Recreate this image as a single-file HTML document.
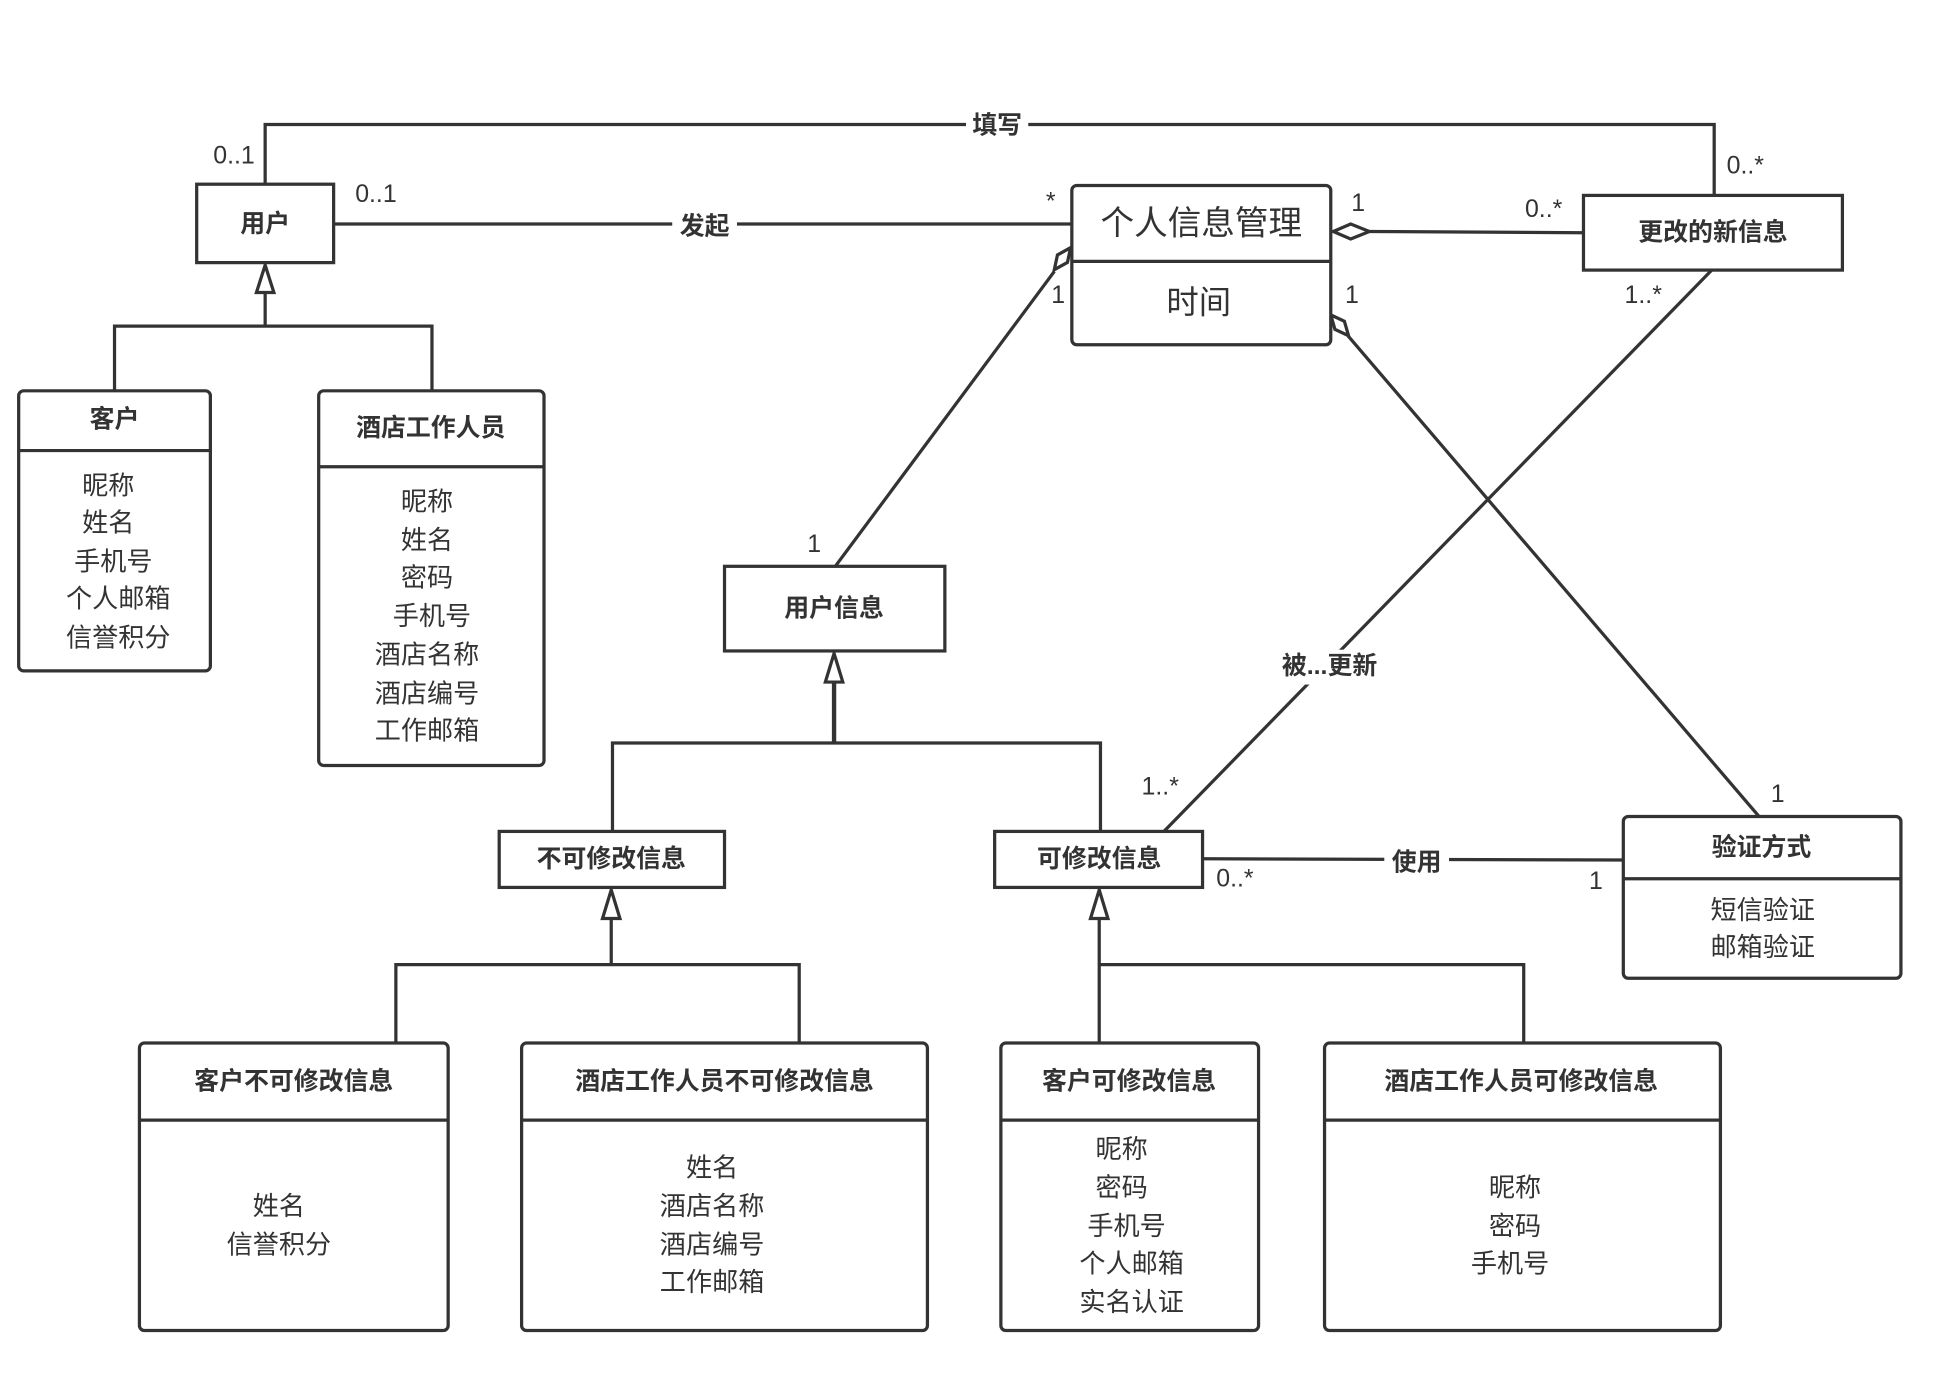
<!DOCTYPE html>
<html><head><meta charset="utf-8"><style>
html,body{margin:0;padding:0;background:#fff;}
svg{display:block;}
text{font-family:"Liberation Sans","Noto Sans CJK SC",sans-serif;fill:#333;text-anchor:middle;dominant-baseline:central;}
.t{font-weight:bold;font-size:20px;}
.a{font-size:21px;}
.m{font-size:20px;}
</style></head><body>
<svg width="1942" height="1394" viewBox="0 0 1560 1120" preserveAspectRatio="none" xmlns="http://www.w3.org/2000/svg">
<g fill="none" stroke="#333" stroke-width="2.6">
<!-- connectors -->
<polyline points="213,148 213,100 1377,100 1377,157"/>
<line x1="268" y1="180" x2="861" y2="180"/>
<polyline points="213,235 213,262"/>
<polyline points="92,314 92,262 347,262 347,314"/>
<line x1="1100" y1="186" x2="1272" y2="187"/>
<line x1="847" y1="218" x2="671" y2="455"/>
<line x1="1083" y1="270" x2="1413" y2="656"/>
<line x1="1375" y1="217" x2="935" y2="668"/>
<line x1="966" y1="690" x2="1304" y2="691"/>
<polyline points="670,548 670,597" stroke-width="3.5"/>
<polyline points="492,668 492,597 884,597 884,668"/>
<polyline points="491,738 491,775"/>
<polyline points="318,838 318,775 642,775 642,838"/>
<polyline points="883,738 883,838"/>
<polyline points="883,775 1224,775 1224,838"/>
</g>
<!-- triangles -->
<g fill="#fff" stroke="#333" stroke-width="2.6">
<polygon points="213,213 206,235 220,235"/>
<polygon points="670,525 663,548 677,548"/>
<polygon points="491,715 484,738 498,738"/>
<polygon points="883,715 876,738 890,738"/>
<!-- diamonds -->
<polygon points="1071,186 1085,180 1100,186 1085,192"/>
<polygon points="0,0 11,-5 22,0 11,5" transform="translate(860,199) rotate(126.5)"/>
<polygon points="0,0 11,-5 22,0 11,5" transform="translate(1069,253) rotate(49.5)"/>
</g>
<!-- label backgrounds -->
<g fill="#fff">
<rect x="776" y="89" width="50" height="24"/>
<rect x="540" y="169" width="52" height="26"/>
<rect x="1020" y="522" width="96" height="28"/>
<rect x="1112" y="680" width="52" height="26"/>
</g>
<!-- boxes -->
<g fill="#fff" stroke="#333" stroke-width="2.6">
<rect x="158" y="148" width="110" height="63"/>
<rect x="15" y="314" width="154" height="225" rx="4"/>
<line x1="15" y1="362" x2="169" y2="362"/>
<rect x="256" y="314" width="181" height="301" rx="4"/>
<line x1="256" y1="375" x2="437" y2="375"/>
<rect x="861" y="149" width="208" height="128" rx="4"/>
<line x1="861" y1="210" x2="1069" y2="210"/>
<rect x="1272" y="157" width="208" height="60"/>
<rect x="582" y="455" width="177" height="68"/>
<rect x="401" y="668" width="181" height="45"/>
<rect x="799" y="668" width="167" height="45"/>
<rect x="1304" y="656" width="223" height="130" rx="4"/>
<line x1="1304" y1="706" x2="1527" y2="706"/>
<rect x="112" y="838" width="248" height="231" rx="4"/>
<line x1="112" y1="900" x2="360" y2="900"/>
<rect x="419" y="838" width="326" height="231" rx="4"/>
<line x1="419" y1="900" x2="745" y2="900"/>
<rect x="804" y="838" width="207" height="231" rx="4"/>
<line x1="804" y1="900" x2="1011" y2="900"/>
<rect x="1064" y="838" width="318" height="231" rx="4"/>
<line x1="1064" y1="900" x2="1382" y2="900"/>
</g>
<!-- titles -->
<text class="t" x="213" y="180">用户</text>
<text class="t" x="92" y="337">客户</text>
<text class="t" x="346" y="344">酒店工作人员</text>
<text x="965" y="180" style="font-size:27px">个人信息管理</text>
<text x="963" y="243" style="font-size:26px">时间</text>
<text class="t" x="1376" y="187">更改的新信息</text>
<text class="t" x="670" y="489">用户信息</text>
<text class="t" x="491" y="690">不可修改信息</text>
<text class="t" x="883" y="690">可修改信息</text>
<text class="t" x="1415" y="681">验证方式</text>
<text class="t" x="236" y="869">客户不可修改信息</text>
<text class="t" x="582" y="869">酒店工作人员不可修改信息</text>
<text class="t" x="907" y="869">客户可修改信息</text>
<text class="t" x="1222" y="869">酒店工作人员可修改信息</text>
<!-- attributes -->
<g class="a">
<text class="a" x="87" y="390">昵称</text>
<text class="a" x="87" y="420">姓名</text>
<text class="a" x="91" y="451">手机号</text>
<text class="a" x="95" y="481">个人邮箱</text>
<text class="a" x="95" y="512">信誉积分</text>
<text class="a" x="343" y="403">昵称</text>
<text class="a" x="343" y="434">姓名</text>
<text class="a" x="343" y="464">密码</text>
<text class="a" x="347" y="495">手机号</text>
<text class="a" x="343" y="526">酒店名称</text>
<text class="a" x="343" y="557">酒店编号</text>
<text class="a" x="343" y="587">工作邮箱</text>
<text class="a" x="1416" y="731">短信验证</text>
<text class="a" x="1416" y="761">邮箱验证</text>
<text class="a" x="224" y="969">姓名</text>
<text class="a" x="224" y="1000">信誉积分</text>
<text class="a" x="572" y="938">姓名</text>
<text class="a" x="572" y="969">酒店名称</text>
<text class="a" x="572" y="1000">酒店编号</text>
<text class="a" x="572" y="1030">工作邮箱</text>
<text class="a" x="901" y="923">昵称</text>
<text class="a" x="901" y="954">密码</text>
<text class="a" x="905" y="985">手机号</text>
<text class="a" x="909" y="1015">个人邮箱</text>
<text class="a" x="909" y="1046">实名认证</text>
<text class="a" x="1217" y="954">昵称</text>
<text class="a" x="1217" y="985">密码</text>
<text class="a" x="1213" y="1015">手机号</text>
</g>
<!-- connector labels -->
<text class="t" x="801" y="101">填写</text>
<text class="t" x="566" y="182">发起</text>
<text class="t" x="1068" y="535">被...更新</text>
<text class="t" x="1138" y="693">使用</text>
<!-- multiplicities -->
<text class="m" x="188" y="125">0..1</text>
<text class="m" x="302" y="156">0..1</text>
<text class="m" x="844" y="162">*</text>
<text class="m" x="1402" y="133">0..*</text>
<text class="m" x="1091" y="163">1</text>
<text class="m" x="1240" y="168">0..*</text>
<text class="m" x="850" y="237">1</text>
<text class="m" x="1086" y="237">1</text>
<text class="m" x="1320" y="237">1..*</text>
<text class="m" x="654" y="437">1</text>
<text class="m" x="932" y="632">1..*</text>
<text class="m" x="1428" y="638">1</text>
<text class="m" x="992" y="706">0..*</text>
<text class="m" x="1282" y="708">1</text>
</svg>
</body></html>
